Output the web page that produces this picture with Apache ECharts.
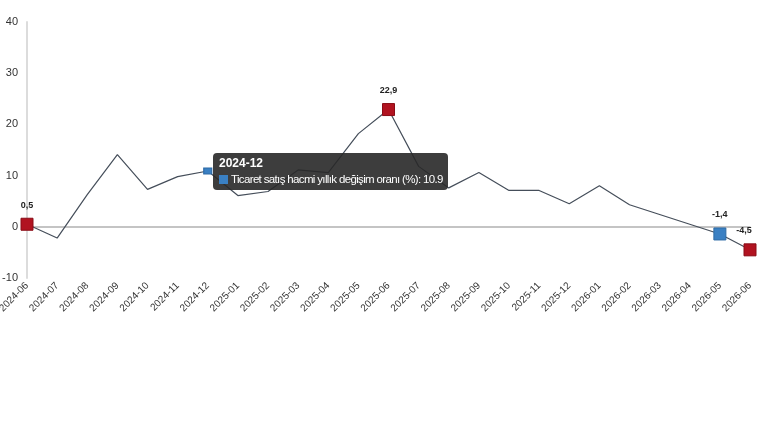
<!DOCTYPE html>
<html>
<head>
<meta charset="utf-8">
<script src="https://cdn.jsdelivr.net/npm/echarts@6/dist/echarts.min.js"></script>
<style>
html,body{margin:0;padding:0;background:#fff;}
#c{width:760px;height:430px;}
</style>
</head>
<body>
<div id="c"></div>
<script>
var seriesName = 'Ticaret satış hacmi yıllık değişim oranı (%)';
var categories = ['2024-06','2024-07','2024-08','2024-09','2024-10','2024-11','2024-12',
  '2025-01','2025-02','2025-03','2025-04','2025-05','2025-06','2025-07','2025-08','2025-09',
  '2025-10','2025-11','2025-12','2026-01','2026-02','2026-03','2026-04','2026-05','2026-06'];
var values = [0.5,-2.2,6.3,14.1,7.3,9.8,10.9,6.1,6.9,11.1,10.6,18.2,22.9,11.8,7.6,10.6,7.1,7.1,4.5,8.0,4.3,2.4,0.5,-1.4,-4.5];
var redPoints = [0, 12, 24];
var bluePoints = [23];
var hoverPoint = 6;
var yTicks = {min: -10, max: 40, interval: 10};

var RED = '#b11320', BLUE = '#3a80c3';
function lbl(v){ return String(v).replace('.', ','); }

var data = values.map(function(v, i){
  var item = {value: v};
  if (redPoints.indexOf(i) >= 0 || bluePoints.indexOf(i) >= 0) {
    var red = redPoints.indexOf(i) >= 0;
    item.symbol = 'rect';
    item.symbolSize = 12;
    item.itemStyle = {color: red ? RED : BLUE, borderColor: red ? '#8a0c16' : '#2d6aa6', borderWidth: 1};
    item.label = {show: true, position: 'top', distance: 8, formatter: lbl(v),
      fontSize: 9, fontWeight: 'bold', color: '#222', fontFamily: 'Liberation Sans',
      offset: i === values.length - 1 ? [-6, 0] : [0, 0]};
  } else if (i === hoverPoint) {
    item.symbol = 'rect';
    item.symbolSize = [8, 6];
    item.itemStyle = {color: BLUE, borderColor: '#2d6aa6', borderWidth: 1};
  }
  return item;
});

var chart = echarts.init(document.getElementById('c'));
chart.setOption({
  animation: false,
  grid: {left: 27, right: 10, top: 22, bottom: 152, containLabel: false, outerBoundsMode: 'none'},
  tooltip: {
    trigger: 'item',
    alwaysShowContent: true,
    transitionDuration: 0,
    showDelay: 0,
    backgroundColor: 'rgba(40,40,40,0.9)',
    borderWidth: 0,
    borderRadius: 4,
    padding: [2, 5, 3, 6],
    extraCssText: 'box-shadow:none;',
    textStyle: {color: '#fff', fontSize: 11, fontFamily: 'Liberation Sans'},
    position: function(pt){ return [pt[0] + 5, pt[1] - 18]; },
    formatter: function(p){
      return '<div style="font-weight:bold;line-height:16px;font-size:12px;">' + p.name + '</div>' +
        '<div style="line-height:16px;white-space:nowrap;font-size:11.5px;letter-spacing:-0.65px;"><span style="display:inline-block;width:9px;height:9px;background:' + BLUE + ';margin-right:3px;vertical-align:-1px;"></span>' +
        p.seriesName + ': ' + p.value + '</div>';
    }
  },
  xAxis: {
    type: 'category',
    data: categories,
    boundaryGap: false,
    axisLine: {show: true, lineStyle: {color: '#dcdcdc', width: 2}},
    axisTick: {show: false},
    axisLabel: {rotate: 45, fontSize: 10, color: '#333', fontFamily: 'Liberation Sans', margin: 6, interval: 0},
    splitLine: {show: false}
  },
  yAxis: {
    type: 'value',
    min: yTicks.min, max: yTicks.max, interval: yTicks.interval,
    axisLine: {show: true, lineStyle: {color: '#dcdcdc', width: 2}},
    axisTick: {show: false},
    axisLabel: {fontSize: 11, color: '#333', fontFamily: 'Liberation Sans', margin: 9},
    splitLine: {show: false}
  },
  series: [{
    name: seriesName,
    type: 'line',
    data: data,
    symbol: 'none',
    showSymbol: true,
    lineStyle: {color: '#454e5a', width: 1.2},
    itemStyle: {color: '#454e5a'},
    emphasis: {disabled: true},
    z: 3,
    markLine: {
      silent: true,
      symbol: 'none',
      label: {show: false},
      lineStyle: {color: '#c4c4c4', width: 2, type: 'solid'},
      data: [{yAxis: 0}],
      z: 1
    }
  }]
});
chart.dispatchAction({type: 'showTip', seriesIndex: 0, dataIndex: hoverPoint});
</script>
</body>
</html>
